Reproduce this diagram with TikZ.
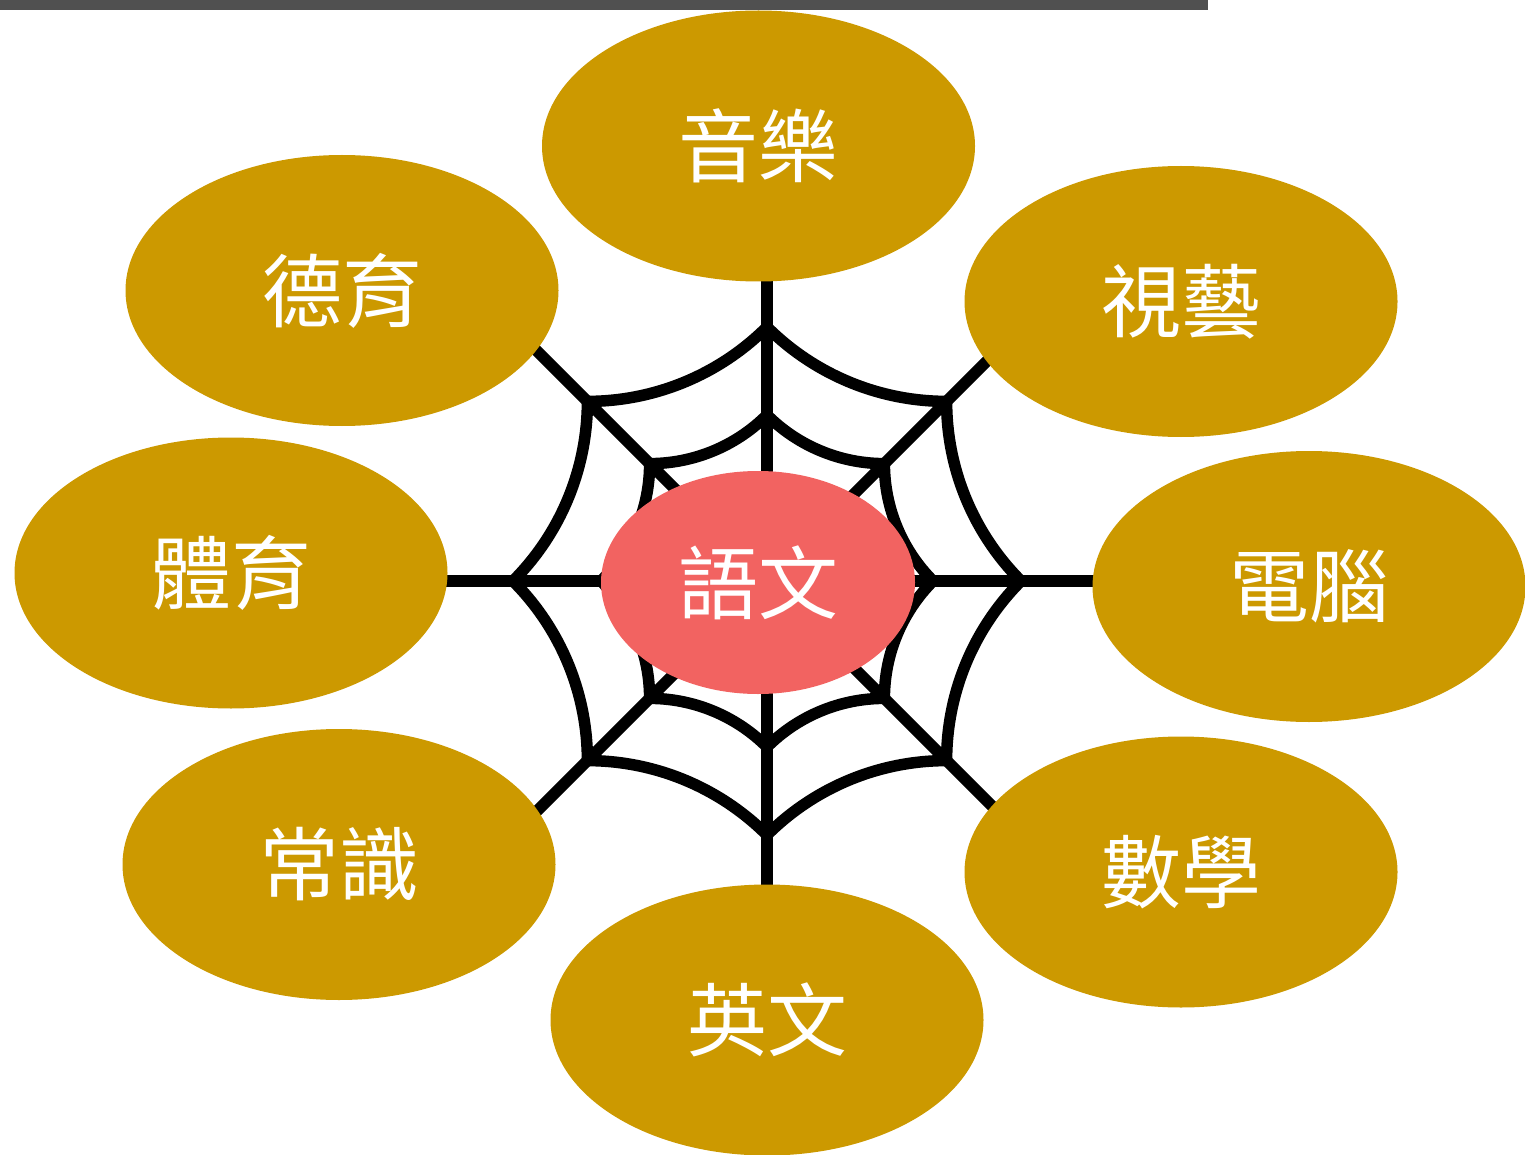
\documentclass[tikz,border=0pt]{standalone}
\usepackage{fontspec}
\newfontfamily\cjk{Noto Sans CJK TC}
\usetikzlibrary{shapes.geometric}
\definecolor{gold}{HTML}{CC9900}
\definecolor{coral}{HTML}{F26361}
\definecolor{barcol}{HTML}{505050}
\begin{document}
\begin{tikzpicture}[x=1pt,y=-1pt,
  subj/.style={ellipse, fill=gold, minimum width=433pt, minimum height=271pt,
    inner sep=0pt, text=white, font=\cjk\fontsize{80}{80}\selectfont},
  hubnode/.style={ellipse, fill=coral, minimum width=314pt, minimum height=223pt,
    inner sep=0pt, text=white, font=\cjk\fontsize{80}{80}\selectfont},
  web/.style={line width=11.5pt, draw=black}]
\useasboundingbox (0,0) rectangle (1525,1155);
\fill[barcol] (0,0) rectangle (1208,10);

% spokes
\coordinate (hub) at (767,581);
\foreach \a in {0,45,...,315}{
  \coordinate (s\a) at ([shift={(\a:380)}]hub);
  \draw[web] (hub) -- (s\a);
}
% rings
\begin{scope}[shift={(hub)}]
  \draw[web] (0:254) \foreach \k in {0,...,7}{ arc[start angle={45*\k+225}, end angle={45*\k+180}, radius=254] } -- cycle;
  \draw[web] (0:166) \foreach \k in {0,...,7}{ arc[start angle={45*\k+225}, end angle={45*\k+180}, radius=166] } -- cycle;
\end{scope}

% subjects
\node[subj] (music) at (758.5,146) {音樂};
\node[subj] (moral) at (342,290.5) {德育};
\node[subj] (art) at (1181,301.5) {視藝};
\node[subj] (pe) at (231,573) {體育};
\node[subj] (ict) at (1309,586.5) {電腦};
\node[subj] (gs) at (339,864.5) {常識};
\node[subj] (math) at (1181,872) {數學};
\node[subj] (eng) at (767,1020) {英文};
\node[hubnode] (chin) at (758,582.5) {語文};
\end{tikzpicture}
\end{document}
